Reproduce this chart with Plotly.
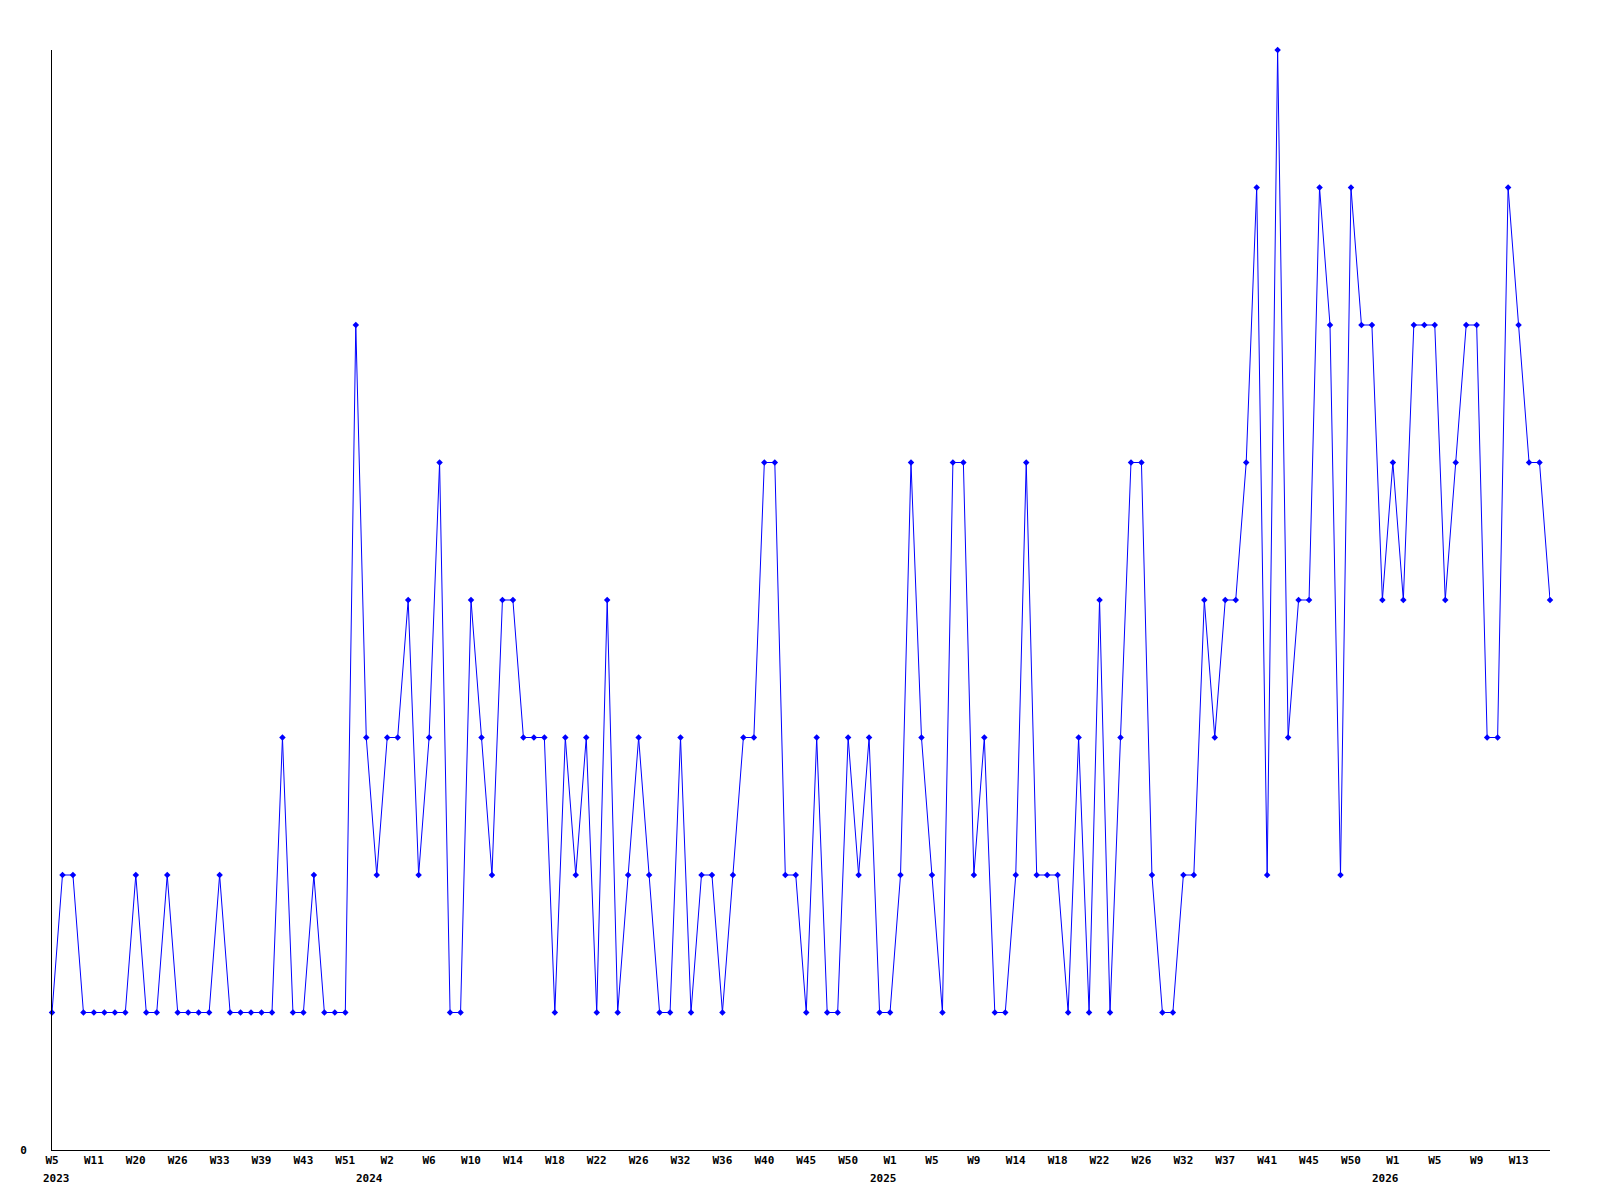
import plotly.graph_objects as go

# Weekly values, one per plotted point (categorical order)
values = [
    1, 2, 2, 1, 1, 1, 1, 1, 2, 1, 1, 2, 1, 1, 1, 1, 2, 1, 1, 1,
    1, 1, 3, 1, 1, 2, 1, 1, 1, 6, 3, 2, 3, 3, 4, 2, 3, 5, 1, 1,
    4, 3, 2, 4, 4, 3, 3, 3, 1, 3, 2, 3, 1, 4, 1, 2, 3, 2, 1, 1,
    3, 1, 2, 2, 1, 2, 3, 3, 5, 5, 2, 2, 1, 3, 1, 1, 3, 2, 3, 1,
    1, 2, 5, 3, 2, 1, 5, 5, 2, 3, 1, 1, 2, 5, 2, 2, 2, 1, 3, 1,
    4, 1, 3, 5, 5, 2, 1, 1, 2, 2, 4, 3, 4, 4, 5, 7, 2, 8, 3, 4,
    4, 7, 6, 2, 7, 6, 6, 4, 5, 4, 6, 6, 6, 4, 5, 6, 6, 3, 3, 7,
    6, 5, 5, 4,
]

# Week tick labels (shown every 4th point)
week_labels = [
    "W5", "W11", "W20", "W26", "W33", "W39", "W43", "W51",
    "W2", "W6", "W10", "W14", "W18", "W22", "W26", "W32", "W36", "W40", "W45", "W50",
    "W1", "W5", "W9", "W14", "W18", "W22", "W26", "W32", "W37", "W41", "W45", "W50",
    "W1", "W5", "W9", "W13",
]
label_step = 4

# Year labels and the point index where each year starts
year_labels = ["2023", "2024", "2025", "2026"]
year_start_index = [0, 31, 80, 128]

x = list(range(len(values)))
tick_vals = [i * label_step for i in range(len(week_labels))]

font_family = "DejaVu Sans Mono"
label_font = dict(family=font_family, size=11, color="black", weight="bold")

fig = go.Figure()
fig.add_trace(go.Scatter(
    x=x, y=values, mode="lines+markers",
    line=dict(color="#0000ff", width=1),
    marker=dict(symbol="diamond", size=5, color="#0000ff"),
    cliponaxis=False,
    hoverinfo="x+y",
))

annotations = []
for k, (lab, idx) in enumerate(zip(year_labels, year_start_index)):
    if k == 0:
        annotations.append(dict(
            x=idx, y=0, xref="x", yref="paper", text=lab, showarrow=False,
            xanchor="left", yanchor="middle", xshift=-11, yshift=-28,
            font=label_font,
        ))
    else:
        annotations.append(dict(
            x=idx, y=0, xref="x", yref="paper", text=lab, showarrow=False,
            xanchor="center", yanchor="middle", xshift=-7, yshift=-28,
            font=label_font,
        ))

# The page adds an 8px body margin, so the figure is sized and offset to compensate
fig.update_layout(
    width=1584, height=1184,
    margin=dict(l=42, r=42, t=42, b=42),
    paper_bgcolor="white", plot_bgcolor="white",
    showlegend=False,
    font=label_font,
    annotations=annotations,
    xaxis=dict(
        range=[0, len(values) - 1],
        tickmode="array", tickvals=tick_vals, ticktext=week_labels,
        showgrid=False, zeroline=False,
        showline=True, linecolor="black", linewidth=1,
        ticks="", tickangle=0,
        ticklabelstandoff=0,
        tickfont=label_font,
    ),
    yaxis=dict(
        range=[0, 8],
        tickmode="array", tickvals=[0], ticktext=["0"],
        showgrid=False, zeroline=False,
        showline=True, linecolor="black", linewidth=1,
        ticks="",
        ticklabelstandoff=22,
        tickfont=label_font,
    ),
)

fig.write_html("out.html")
